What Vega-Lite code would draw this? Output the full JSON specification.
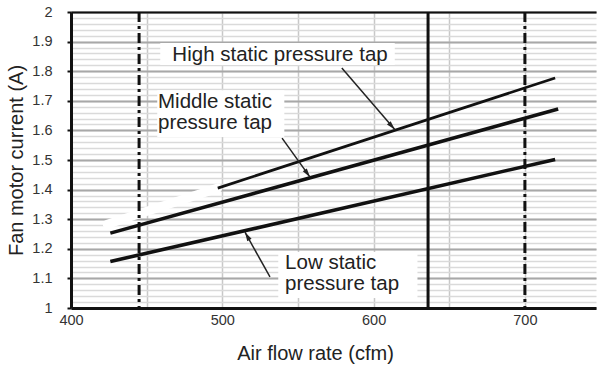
{
  "$schema": "https://vega.github.io/schema/vega-lite/v6.json",
  "width": 525,
  "height": 296,
  "autosize": {"type": "none"},
  "padding": {"left": 71, "top": 12, "right": 1, "bottom": 61},
  "background": "white",
  "config": {
    "view": {"stroke": null},
    "font": "Liberation Sans",
    "axis": {"labelFont": "Liberation Sans", "titleFont": "Liberation Sans"}
  },
  "resolve": {"axis": {"x": "independent", "y": "independent"}},
  "datasets": {
    "series": [
      {"tap": "High", "airflow": 497, "current": 1.405},
      {"tap": "High", "airflow": 720, "current": 1.777},
      {"tap": "Middle", "airflow": 426, "current": 1.253},
      {"tap": "Middle", "airflow": 722, "current": 1.672},
      {"tap": "Low", "airflow": 426, "current": 1.157},
      {"tap": "Low", "airflow": 720, "current": 1.502}
    ],
    "erase": [
      {"airflow": 424, "current": 1.283},
      {"airflow": 497, "current": 1.405}
    ],
    "refs": [
      {"airflow": 445, "kind": "min"},
      {"airflow": 636, "kind": "rated"},
      {"airflow": 700, "kind": "max"}
    ],
    "boxes": [
      {"tap": "High", "x1": 459, "x2": 614, "y1": 1.821, "y2": 1.895},
      {"tap": "Middle", "x1": 457, "x2": 541, "y1": 1.578, "y2": 1.736},
      {"tap": "Low", "x1": 537, "x2": 629, "y1": 1.034, "y2": 1.189}
    ],
    "labels": [
      {"tap": "High", "x": 467, "y": 1.855, "text": "High static pressure tap"},
      {"tap": "Middle", "x": 457.5, "y": 1.696, "text": "Middle static\npressure tap"},
      {"tap": "Low", "x": 541.5, "y": 1.152, "text": "Low static\npressure tap"}
    ],
    "arrows": [
      {"tap": "High", "x1": 579, "y1": 1.811, "x2": 614, "y2": 1.603},
      {"tap": "Middle", "x1": 539.5, "y1": 1.574, "x2": 558, "y2": 1.442},
      {"tap": "Low", "x1": 531.5, "y1": 1.105, "x2": 515, "y2": 1.256}
    ]
  },
  "layer": [
    {
      "data": {"name": "erase"},
      "mark": {"type": "line", "color": "white", "strokeWidth": 9, "strokeCap": "round"},
      "encoding": {
        "x": {
          "field": "airflow", "type": "quantitative",
          "scale": {"domain": [400, 747], "nice": false, "zero": false},
          "axis": {
            "orient": "bottom",
            "values": [400, 450, 500, 550, 600, 650, 700],
            "grid": true, "gridColor": "#c8c8c8", "gridWidth": 1.5,
            "labelExpr": "datum.value % 100 === 0 ? datum.label : ''",
            "ticks": false,
            "domainColor": "#111", "domainWidth": 3,
            "labelFontSize": 14.5, "labelColor": "#333", "labelPadding": 5, "labelFlush": false,
            "title": "Air flow rate (cfm)", "titleFontSize": 20, "titleFontWeight": "normal", "titleColor": "#222",
            "titleX": 244, "titleY": 45, "titleBaseline": "middle", "titleAlign": "center"
          }
        },
        "y": {
          "field": "current", "type": "quantitative",
          "scale": {"domain": [1, 2], "nice": false, "zero": false},
          "axis": {
            "orient": "left", "tickCount": 50,
            "grid": true, "gridColor": "#dadada", "gridWidth": 1.5,
            "labels": false, "ticks": false, "domain": false, "title": null
          }
        }
      }
    },
    {
      "data": {"name": "boxes"},
      "mark": {"type": "rect", "color": "white"},
      "encoding": {
        "x": {
          "field": "x1", "type": "quantitative",
          "axis": {
            "orient": "top", "labels": false, "ticks": false, "grid": false,
            "domainColor": "#111", "domainWidth": 2, "title": null, "zindex": 1
          }
        },
        "x2": {"field": "x2"},
        "y": {
          "field": "y1", "type": "quantitative",
          "axis": {
            "orient": "left",
            "values": [1, 1.1, 1.2, 1.3, 1.4, 1.5, 1.6, 1.7, 1.8, 1.9, 2],
            "grid": true, "gridColor": "#a8a8a8", "gridWidth": 2,
            "format": ".1~f",
            "tickSize": 4, "tickColor": "#111", "tickWidth": 2,
            "domainColor": "#111", "domainWidth": 3,
            "labelFontSize": 14.5, "labelColor": "#333", "labelPadding": 15, "labelFlush": false,
            "title": "Fan motor current (A)", "titleFontSize": 20, "titleFontWeight": "normal", "titleColor": "#222",
            "titleX": -55, "titleY": 148, "titleAngle": -90, "titleBaseline": "middle", "titleAlign": "center"
          }
        },
        "y2": {"field": "y2"}
      }
    },
    {
      "data": {"name": "refs"},
      "transform": [{"filter": "datum.kind !== 'rated'"}],
      "mark": {"type": "rule", "color": "#111", "strokeWidth": 3, "strokeDash": [10, 4, 3, 4]},
      "encoding": {"x": {"field": "airflow", "type": "quantitative", "axis": null}}
    },
    {
      "data": {"name": "refs"},
      "transform": [{"filter": "datum.kind === 'rated'"}],
      "mark": {"type": "rule", "color": "#111", "strokeWidth": 3},
      "encoding": {"x": {"field": "airflow", "type": "quantitative", "axis": null}}
    },
    {
      "data": {"name": "series"},
      "transform": [{"filter": "datum.tap === 'High'"}],
      "mark": {"type": "line", "color": "#111", "strokeWidth": 2.7},
      "encoding": {
        "x": {"field": "airflow", "type": "quantitative", "axis": null},
        "y": {"field": "current", "type": "quantitative", "axis": null},
        "detail": {"field": "tap"}
      }
    },
    {
      "data": {"name": "series"},
      "transform": [{"filter": "datum.tap !== 'High'"}],
      "mark": {"type": "line", "color": "#111", "strokeWidth": 3.6},
      "encoding": {
        "x": {"field": "airflow", "type": "quantitative", "axis": null},
        "y": {"field": "current", "type": "quantitative", "axis": null},
        "detail": {"field": "tap"}
      }
    },
    {
      "data": {"name": "arrows"},
      "mark": {"type": "rule", "color": "#222", "strokeWidth": 1.5},
      "encoding": {
        "x": {"field": "x1", "type": "quantitative", "axis": null},
        "y": {"field": "y1", "type": "quantitative", "axis": null},
        "x2": {"field": "x2"},
        "y2": {"field": "y2"}
      }
    },
    {
      "data": {"name": "arrows"},
      "transform": [{"filter": "datum.tap === 'High'"}],
      "mark": {"type": "point", "filled": true, "opacity": 1, "color": "#222", "size": 81, "shape": "M0,0L-0.55,2L0.55,2Z", "angle": 138.5},
      "encoding": {
        "x": {"field": "x2", "type": "quantitative", "axis": null},
        "y": {"field": "y2", "type": "quantitative", "axis": null}
      }
    },
    {
      "data": {"name": "arrows"},
      "transform": [{"filter": "datum.tap === 'Middle'"}],
      "mark": {"type": "point", "filled": true, "opacity": 1, "color": "#222", "size": 81, "shape": "M0,0L-0.55,2L0.55,2Z", "angle": 144.3},
      "encoding": {
        "x": {"field": "x2", "type": "quantitative", "axis": null},
        "y": {"field": "y2", "type": "quantitative", "axis": null}
      }
    },
    {
      "data": {"name": "arrows"},
      "transform": [{"filter": "datum.tap === 'Low'"}],
      "mark": {"type": "point", "filled": true, "opacity": 1, "color": "#222", "size": 81, "shape": "M0,0L-0.55,2L0.55,2Z", "angle": 330.4},
      "encoding": {
        "x": {"field": "x2", "type": "quantitative", "axis": null},
        "y": {"field": "y2", "type": "quantitative", "axis": null}
      }
    },
    {
      "data": {"name": "labels"},
      "mark": {"type": "text", "align": "left", "baseline": "middle", "fontSize": 20.5, "color": "#222", "lineBreak": "\n", "lineHeight": 21},
      "encoding": {
        "x": {"field": "x", "type": "quantitative", "axis": null},
        "y": {"field": "y", "type": "quantitative", "axis": null},
        "text": {"field": "text"}
      }
    }
  ]
}
